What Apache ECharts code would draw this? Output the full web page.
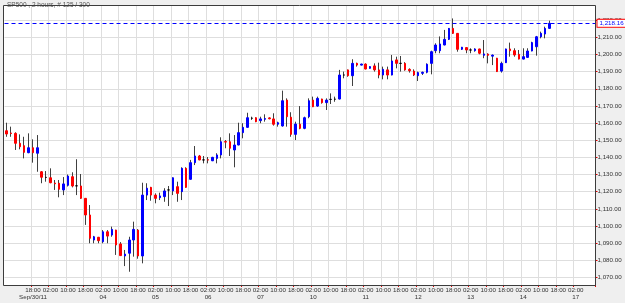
<!DOCTYPE html>
<html>
<head>
<meta charset="utf-8">
<script src="https://cdn.jsdelivr.net/npm/echarts@6/dist/echarts.min.js"></script>
<style>
html, body { margin: 0; padding: 0; background: #efefef; }
#chart { width: 625px; height: 303px; }
</style>
</head>
<body>
<div id="chart"></div>
<script>
// SP500, 2 hour bars
const opens = [
  1155.5, 1154.2, 1154.0, 1148.2, 1146.8, 1142.7, 1145.6, 1142.4, 1131.6, 1128.3,
  1128.1, 1125.0, 1124.9, 1121.0, 1123.7, 1128.7, 1123.4, 1123.3, 1116.1, 1106.4,
  1091.8, 1093.4, 1090.8, 1096.6, 1094.7, 1097.6, 1089.5, 1082.5, 1084.1, 1091.8,
  1097.6, 1082.5, 1118.0, 1122.5, 1118.0, 1116.5, 1117.1, 1121.0, 1120.4, 1122.9,
  1120.0, 1133.6, 1127.2, 1136.9, 1140.8, 1138.5, 1138.6, 1138.0, 1139.4, 1141.4,
  1149.2, 1149.1, 1144.3, 1147.2, 1154.4, 1157.5, 1162.8, 1163.1, 1161.4, 1162.2,
  1163.0, 1162.4, 1159.3, 1158.3, 1173.4, 1163.4, 1153.4, 1159.3, 1156.9, 1163.7,
  1173.4, 1169.9, 1174.0, 1171.9, 1173.8, 1173.9, 1174.0, 1188.0, 1191.0, 1187.6,
  1194.8, 1193.8, 1194.4, 1191.9, 1193.3, 1191.0, 1188.0, 1191.0, 1188.0, 1196.8,
  1194.8, 1194.8, 1191.3, 1190.3, 1187.6, 1189.0, 1189.6, 1194.8, 1202.2, 1202.2,
  1205.5, 1208.8, 1215.2, 1212.3, 1203.0, 1204.0, 1202.6, 1202.2, 1203.2, 1199.5,
  1200.2, 1199.0, 1197.8, 1190.3, 1195.2, 1203.2, 1202.2, 1200.1, 1197.3, 1198.3,
  1202.0, 1204.5, 1210.3, 1211.9, 1215.2
];
const closes = [
  1153.6, 1153.9, 1148.2, 1146.2, 1142.9, 1145.6, 1142.7, 1145.6, 1128.4, 1128.3,
  1125.2, 1124.6, 1121.4, 1124.5, 1129.1, 1123.3, 1123.4, 1116.1, 1106.4, 1092.8,
  1093.7, 1091.4, 1096.6, 1094.1, 1098.0, 1088.9, 1082.7, 1083.6, 1091.8, 1098.0,
  1082.5, 1118.0, 1122.0, 1118.0, 1116.1, 1117.5, 1120.4, 1121.0, 1128.1, 1119.0,
  1133.6, 1122.5, 1136.9, 1140.8, 1138.5, 1138.5, 1138.4, 1140.0, 1141.4, 1149.1,
  1148.9, 1145.3, 1147.2, 1154.4, 1157.5, 1163.1, 1162.8, 1160.8, 1162.4, 1162.6,
  1162.5, 1159.3, 1160.2, 1173.0, 1163.7, 1153.4, 1159.4, 1156.9, 1163.1, 1173.0,
  1169.5, 1174.4, 1171.9, 1173.4, 1173.8, 1173.9, 1188.0, 1188.0, 1187.6, 1194.8,
  1193.8, 1194.4, 1191.5, 1192.9, 1191.0, 1188.0, 1191.3, 1188.0, 1196.2, 1194.8,
  1194.8, 1191.0, 1190.5, 1188.0, 1189.4, 1189.6, 1194.3, 1201.6, 1205.5, 1206.1,
  1208.8, 1215.2, 1212.3, 1203.0, 1204.2, 1202.6, 1202.6, 1203.2, 1200.7, 1200.3,
  1199.5, 1199.6, 1190.0, 1194.8, 1203.2, 1202.2, 1199.7, 1197.3, 1198.7, 1202.0,
  1206.9, 1210.3, 1212.3, 1215.2, 1218.16
];
const lows = [
  1152.0, 1152.0, 1144.3, 1144.7, 1139.4, 1142.4, 1136.9, 1131.6, 1124.9, 1125.8,
  1124.9, 1121.0, 1116.7, 1118.0, 1123.0, 1122.5, 1118.0, 1115.8, 1100.6, 1089.9,
  1089.9, 1089.9, 1089.9, 1089.9, 1093.7, 1083.1, 1082.5, 1076.6, 1073.3, 1082.1,
  1080.9, 1078.2, 1115.1, 1114.7, 1113.2, 1115.1, 1114.1, 1111.6, 1118.0, 1114.1,
  1115.1, 1122.3, 1127.0, 1135.5, 1138.3, 1136.5, 1136.5, 1137.8, 1136.5, 1139.4,
  1145.3, 1140.8, 1134.2, 1147.0, 1151.1, 1157.3, 1161.8, 1160.5, 1159.9, 1160.8,
  1162.2, 1158.5, 1157.9, 1157.9, 1157.9, 1152.0, 1150.1, 1156.4, 1156.4, 1162.8,
  1169.3, 1169.5, 1171.3, 1167.6, 1171.1, 1172.4, 1173.8, 1186.1, 1187.0, 1181.6,
  1192.9, 1193.6, 1191.3, 1191.7, 1190.0, 1186.1, 1185.5, 1185.5, 1187.8, 1191.9,
  1190.0, 1190.5, 1189.4, 1187.4, 1184.5, 1188.0, 1189.0, 1188.4, 1200.7, 1200.7,
  1205.3, 1208.4, 1212.0, 1201.6, 1202.6, 1200.7, 1200.7, 1201.6, 1200.1, 1197.8,
  1194.8, 1193.8, 1189.8, 1189.4, 1195.0, 1198.7, 1198.7, 1197.1, 1197.1, 1198.1,
  1201.8, 1199.3, 1209.4, 1209.4, 1215.0
];
const highs = [
  1160.2, 1157.9, 1154.6, 1153.4, 1152.0, 1154.0, 1150.5, 1153.0, 1132.0, 1132.0,
  1133.6, 1126.8, 1126.8, 1128.5, 1130.0, 1131.3, 1138.9, 1130.3, 1116.3, 1112.2,
  1094.2, 1093.6, 1097.6, 1097.6, 1099.6, 1097.8, 1090.6, 1086.0, 1093.7, 1102.5,
  1098.2, 1125.2, 1124.9, 1122.8, 1119.0, 1119.4, 1122.0, 1123.3, 1128.3, 1125.8,
  1134.2, 1134.2, 1138.5, 1146.6, 1141.4, 1140.8, 1140.2, 1140.3, 1142.4, 1151.7,
  1150.1, 1154.0, 1153.0, 1160.2, 1159.9, 1166.0, 1163.7, 1163.3, 1163.7, 1165.1,
  1163.3, 1165.7, 1160.8, 1178.9, 1174.4, 1166.3, 1160.8, 1169.9, 1163.7, 1174.4,
  1175.4, 1175.4, 1174.2, 1174.4, 1177.3, 1175.4, 1191.0, 1190.0, 1191.2, 1197.2,
  1195.2, 1194.6, 1194.8, 1193.1, 1194.8, 1195.2, 1192.9, 1192.9, 1199.7, 1198.7,
  1199.1, 1195.5, 1191.9, 1191.3, 1190.0, 1190.0, 1194.8, 1202.2, 1206.5, 1210.5,
  1214.3, 1215.4, 1221.0, 1212.5, 1204.4, 1204.2, 1203.6, 1203.6, 1203.3, 1208.4,
  1200.7, 1200.0, 1198.0, 1195.8, 1203.4, 1206.9, 1203.6, 1202.6, 1203.6, 1203.6,
  1207.4, 1210.8, 1213.3, 1216.2, 1219.7
];

// one label every 4 bars (8 hours)
const timeLabels = [
  '18:00', '02:00', '10:00', '18:00', '02:00', '10:00', '18:00', '02:00',
  '10:00', '18:00', '02:00', '10:00', '18:00', '02:00', '10:00', '18:00',
  '02:00', '10:00', '18:00', '02:00', '10:00', '18:00', '02:00', '10:00',
  '18:00', '02:00', '10:00', '18:00', '02:00', '10:00', '18:00', '02:00'
];
const dateLabels = [
  'Sep/30/11', '', '', '', '04', '', '', '05', '', '', '06', '', '', '07', '', '',
  '10', '', '', '11', '', '', '12', '', '', '13', '', '', '14', '', '', '17'
];
const titleText = 'SP500 , 2 hours, # 125 / 300';

const slotCount = 135;    // bars shown + empty room on the right
const firstLabelSlot = 6;
const labelStep = 4;

const bg = '#efefef';
const gridColor = '#dedede';
const font = '"Liberation Sans", Arial, sans-serif';

function fmt(v) {
  const parts = v.toFixed(2).split('.');
  return parts[0].replace(/\B(?=(\d{3})+(?!\d))/g, ',') + '.' + parts[1];
}

function labelIndex(idx) {
  const k = (idx - firstLabelSlot) / labelStep;
  return k >= 0 && Number.isInteger(k) && k < timeLabels.length ? k : -1;
}
const onTime = idx => labelIndex(idx) >= 0;
const onDate = idx => labelIndex(idx) >= 0 && dateLabels[labelIndex(idx)] !== '';

const cats = [];
for (let i = 0; i < slotCount; i++) cats.push(String(i));

const wicks = opens.map((o, i) => [o, closes[i], lows[i], highs[i]]);
const bodies = opens.map((o, i) => {
  const c = closes[i];
  const item = { value: [o, c, Math.min(o, c), Math.max(o, c)] };
  if (o === c) item.itemStyle = { color: '#000', color0: '#000', borderColor: '#000', borderColor0: '#000' };
  return item;
});
const lastPrice = closes[closes.length - 1];

const chart = echarts.init(document.getElementById('chart'));

const option = {
  animation: false,
  backgroundColor: bg,
  textStyle: { fontFamily: font },
  title: {
    text: titleText,
    left: 2,
    top: -3,
    textStyle: { fontSize: 6.5, fontWeight: 'normal', color: '#555', fontFamily: font }
  },
  graphic: [
    {
      type: 'rect', z: -10, silent: true,
      shape: { x: 3.5, y: 5.5, width: 592, height: 280 },
      style: { fill: '#fff' }
    },
    {
      type: 'rect', z: 50, silent: true,
      shape: { x: 3.5, y: 5.5, width: 592, height: 280 },
      style: { fill: 'none', stroke: '#3c3c3c', lineWidth: 1 }
    },
    // hide the ticks of the off-screen 1,060 / 1,230 levels
    { type: 'rect', z: 60, silent: true, shape: { x: 596, y: 0, width: 8, height: 4.8 }, style: { fill: bg } },
    { type: 'rect', z: 60, silent: true, shape: { x: 596, y: 290, width: 8, height: 8 }, style: { fill: bg } }
  ],
  grid: [
    { left: 4.5, right: 29.5, top: 5, bottom: 18 },
    // taller twin grid so the price levels fall on round tens
    { left: 4.5, right: 29.5, top: 3.0, bottom: 8.45 }
  ],
  xAxis: [
    {
      type: 'category',
      gridIndex: 0,
      data: cats,
      boundaryGap: true,
      axisLine: { show: false },
      axisTick: { show: true, interval: onTime, length: 2, lineStyle: { color: '#e00000' } },
      axisLabel: {
        interval: onTime,
        showMinLabel: true,
        showMaxLabel: true,
        formatter: (v, idx) => timeLabels[labelIndex(idx)] || '',
        fontSize: 6.2,
        color: '#333',
        margin: 2
      },
      splitLine: { show: true, interval: onTime, lineStyle: { color: gridColor, width: 1 } }
    },
    {
      // date row, sits on the lower edge of the twin grid
      type: 'category',
      gridIndex: 1,
      data: cats,
      boundaryGap: true,
      axisLine: { show: false },
      axisTick: { show: false },
      splitLine: { show: false },
      axisLabel: {
        interval: onDate,
        showMinLabel: true,
        showMaxLabel: true,
        formatter: (v, idx) => dateLabels[labelIndex(idx)] || '',
        fontSize: 6.2,
        color: '#333',
        margin: 0
      }
    }
  ],
  yAxis: [
    { type: 'value', gridIndex: 0, min: 1065.57, max: 1228.83, show: false },
    {
      type: 'value',
      gridIndex: 1,
      position: 'right',
      min: 1060,
      max: 1230,
      interval: 10,
      axisLine: { show: false },
      axisTick: { show: true, length: 2, lineStyle: { color: '#e00000' } },
      axisLabel: {
        formatter: v => (v < 1065 || v > 1228 ? '' : fmt(v)),
        showMinLabel: false,
        showMaxLabel: false,
        fontSize: 6.2,
        color: '#333',
        margin: 2
      },
      splitLine: { show: true, showMinLine: false, showMaxLine: false, lineStyle: { color: gridColor, width: 1 } }
    }
  ],
  series: [
    {
      name: 'wick',
      type: 'candlestick',
      xAxisIndex: 0,
      yAxisIndex: 0,
      silent: true,
      barWidth: 1,
      data: wicks,
      itemStyle: { color: '#404040', color0: '#404040', borderColor: '#404040', borderColor0: '#404040', borderWidth: 1 }
    },
    {
      name: 'body',
      type: 'candlestick',
      xAxisIndex: 0,
      yAxisIndex: 0,
      silent: true,
      barWidth: 2,
      data: bodies,
      itemStyle: { color: '#0000ff', color0: '#ff0000', borderColor: '#0000ff', borderColor0: '#ff0000', borderWidth: 1 },
      markLine: {
        silent: true,
        symbol: ['none', 'none'],
        data: [{ yAxis: lastPrice }],
        lineStyle: { color: '#0000ff', type: [4, 3], width: 1 },
        label: {
          position: 'end',
          formatter: () => fmt(lastPrice),
          color: '#0000ff',
          fontSize: 6.2,
          fontFamily: font,
          backgroundColor: '#fff',
          borderColor: '#ff0000',
          borderWidth: 1,
          padding: [1, 2, 0, 2],
          distance: 2
        }
      }
    }
  ]
};

chart.setOption(option);
</script>
</body>
</html>
